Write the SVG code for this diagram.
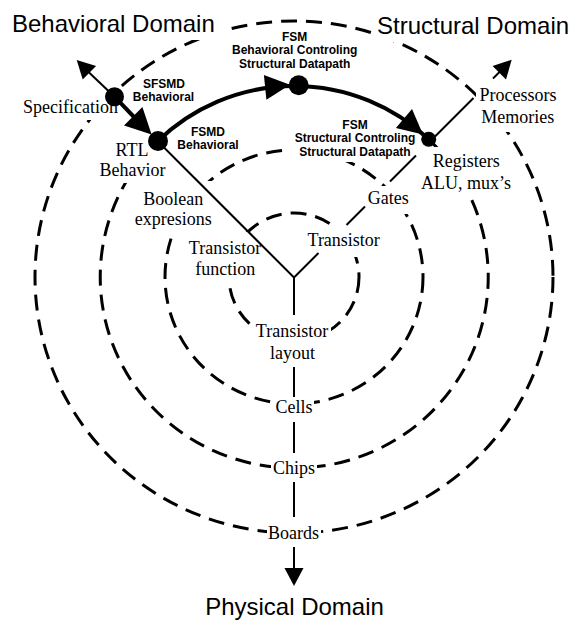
<svg xmlns="http://www.w3.org/2000/svg" width="581" height="620" viewBox="0 0 581 620">
<style>
.ring{fill:none;stroke:#000;stroke-width:3;stroke-dasharray:16 9}
.mask{fill:#fff;stroke:none}
.axis{fill:none;stroke:#000;stroke-width:2}
.thick{fill:none;stroke:#000;stroke-width:4}
.head{fill:#000;stroke:none}
.dot{fill:#000}
.serif{font-family:"Liberation Serif","Times New Roman",serif;font-size:18px;fill:#000;text-anchor:middle}
.bold{font-family:"Liberation Sans",Arial,sans-serif;font-size:12px;font-weight:bold;fill:#000;text-anchor:middle}
.title{font-family:"Liberation Sans",Arial,sans-serif;font-size:24px;fill:#000}
</style>
<rect width="581" height="620" fill="#fff"/>
<g id="rings">
<ellipse class="ring" cx="294" cy="277" rx="65" ry="64"/>
<ellipse class="ring" cx="294" cy="277" rx="129" ry="127"/>
<path class="ring" d="M428.7,139.3 A194,191 0 1 1 158,141"/>
<ellipse class="ring" cx="294" cy="277" rx="259" ry="256"/>
</g>
<g id="masks">
<rect class="mask" x="10" y="8" width="216" height="32"/>
<rect class="mask" x="373" y="8" width="200" height="34"/>
<rect class="mask" x="21" y="98" width="99" height="22"/>
<rect class="mask" x="98" y="143" width="70" height="40"/>
<rect class="mask" x="133" y="181" width="81" height="52"/>
<rect class="mask" x="188" y="232" width="74" height="49"/>
<rect class="mask" x="305" y="227" width="77" height="30"/>
<rect class="mask" x="253" y="315" width="78" height="52"/>
<rect class="mask" x="366" y="186" width="43" height="28"/>
<rect class="mask" x="291" y="116" width="128" height="46"/>
<rect class="mask" x="418" y="147" width="96" height="48"/>
<rect class="mask" x="476" y="80" width="84" height="52"/>
<rect class="mask" x="274" y="397" width="40" height="25"/>
<rect class="mask" x="271" y="453" width="46" height="29"/>
<rect class="mask" x="267" y="517" width="54" height="30"/>
</g>
<g id="connectors">
<line class="axis" x1="294" y1="277.5" x2="158" y2="141.5"/>
<line class="thick" x1="114.5" y1="96.7" x2="134" y2="117"/>
<line class="axis" x1="114.5" y1="96.7" x2="88" y2="71.5"/>
<polygon class="head" points="76.7,60 96.1,66 82.7,79.4"/>
<polygon class="head" points="151.6,134.6 124,125.4 142.4,107"/>
<path class="thick" d="M158,141 A194,191 0 0 1 428.7,139.3"/>
<polygon class="head" points="290,84.8 263.9,74.9 266.4,99.7"/>
<polygon class="head" points="423,134.5 395.9,128.1 412,108.9"/>
<line class="axis" x1="294" y1="277.5" x2="318.5" y2="253"/>
<line class="axis" x1="346.5" y1="225" x2="365" y2="206.5"/>
<line class="axis" x1="390" y1="181.5" x2="416" y2="155.5"/>
<line class="axis" x1="428" y1="143.5" x2="473.5" y2="98"/>
<line class="axis" x1="493" y1="78.5" x2="503" y2="68.5"/>
<polygon class="head" points="511.7,59.8 506,79.4 492.6,66"/>
<line class="axis" x1="294" y1="276.5" x2="294" y2="315"/>
<line class="axis" x1="294" y1="367" x2="294" y2="397"/>
<line class="axis" x1="294" y1="422" x2="294" y2="453"/>
<line class="axis" x1="294" y1="482" x2="294" y2="517"/>
<line class="axis" x1="294" y1="547" x2="294" y2="569"/>
<polygon class="head" points="294,586 284.5,568 303.5,568"/>
</g>
<g id="node-behavioral-domain"><text class="title" x="12" y="32">Behavioral Domain</text></g>
<g id="node-structural-domain"><text class="title" x="377" y="34">Structural Domain</text></g>
<g id="node-physical-domain"><text class="title" x="294.5" y="615" text-anchor="middle">Physical Domain</text></g>
<g id="node-specification"><circle class="dot" cx="114.5" cy="96.7" r="9.5"/><text class="serif" x="70.5" y="112.5">Specification</text></g>
<g id="node-sfsmd"><text class="bold" x="164" y="87.5">SFSMD</text><text class="bold" x="163.5" y="100.5">Behavioral</text></g>
<g id="node-rtl"><circle class="dot" cx="158" cy="141" r="10"/><text class="serif" x="132" y="155.5">RTL</text><text class="serif" x="132.5" y="175.5">Behavior</text></g>
<g id="node-fsmd"><text class="bold" x="208" y="135.5">FSMD</text><text class="bold" x="208" y="148.7">Behavioral</text></g>
<g id="node-fsm-top"><circle class="dot" cx="298.7" cy="85.3" r="10"/><text class="bold" x="294.7" y="40.5">FSM</text><text class="bold" x="294.7" y="54">Behavioral Controling</text><text class="bold" x="294.7" y="67.5">Structural Datapath</text></g>
<g id="node-fsm-lower"><text class="bold" x="355" y="128.7">FSM</text><text class="bold" x="355" y="142.3">Structural Controling</text><text class="bold" x="355" y="156">Structural Datapath</text></g>
<g id="node-registers"><circle class="dot" cx="428.7" cy="139.3" r="7.5"/><text class="serif" x="466.3" y="166.5">Registers</text><text class="serif" x="466" y="188.5">ALU, mux’s</text></g>
<g id="node-processors"><text class="serif" x="518" y="101.3">Processors</text><text class="serif" x="517.8" y="123">Memories</text></g>
<g id="node-boolean"><text class="serif" x="173.3" y="205">Boolean</text><text class="serif" x="173.3" y="225">expresions</text></g>
<g id="node-gates"><text class="serif" x="388.3" y="203.5">Gates</text></g>
<g id="node-transistor-function"><text class="serif" x="225" y="253.5">Transistor</text><text class="serif" x="225.3" y="274.5">function</text></g>
<g id="node-transistor"><text class="serif" x="343.7" y="246.3">Transistor</text></g>
<g id="node-transistor-layout"><text class="serif" x="292" y="337">Transistor</text><text class="serif" x="292.5" y="358.5">layout</text></g>
<g id="node-cells"><text class="serif" x="294" y="412.8">Cells</text></g>
<g id="node-chips"><text class="serif" x="294" y="474">Chips</text></g>
<g id="node-boards"><text class="serif" x="293.5" y="538.8">Boards</text></g>
</svg>
